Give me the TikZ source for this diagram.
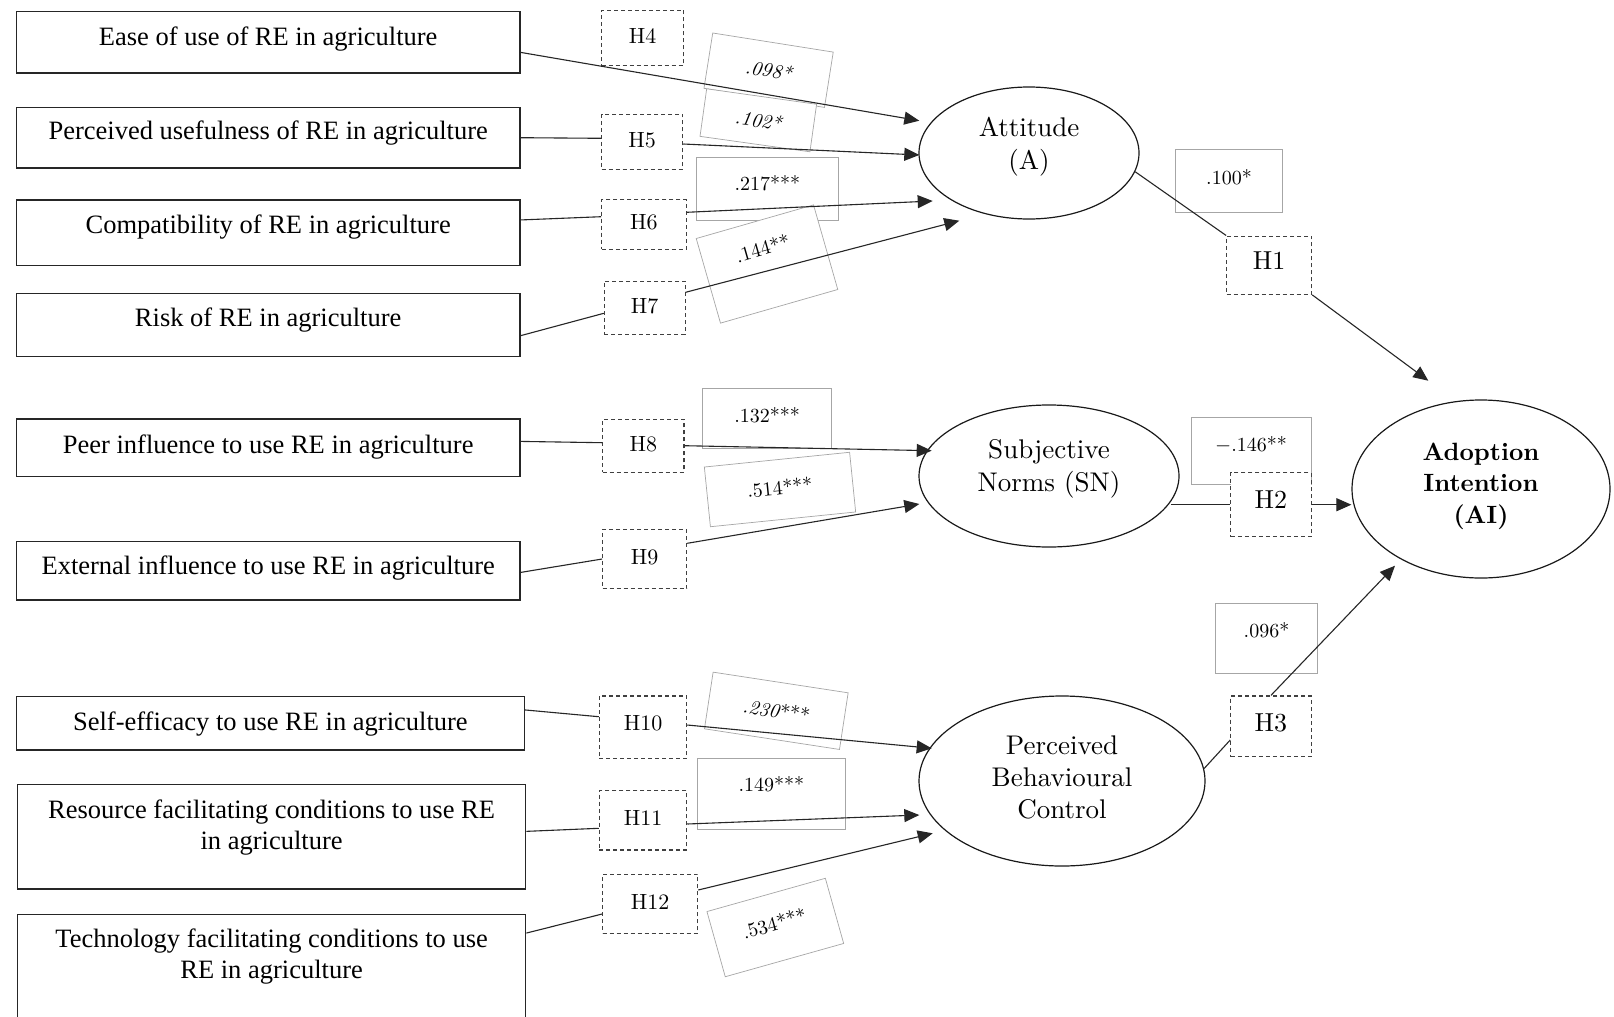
\documentclass[tikz,border=0pt]{standalone}
\usepackage{fontspec}
\setmainfont{lmroman10-regular}[Extension=.otf, BoldFont=lmroman10-bold, ItalicFont=lmroman10-italic]
\newfontfamily\tnr{Liberation Serif}
\usetikzlibrary{arrows.meta,shapes.geometric,calc}
\newcommand{\stk}[1]{\begin{tabular}[t]{@{}c@{}}#1\end{tabular}}
\begin{document}
\begin{tikzpicture}[x=1pt,y=-1pt,
  lbox/.style={draw=black!85, line width=1.4pt, rectangle, inner sep=0pt, fill=white,
    font=\tnr\fontsize{26.5}{31}\selectfont},
  hbox/.style={draw=black!75, dash pattern=on 4pt off 3pt, line width=1.1pt, fill=white,
    inner sep=0pt, font=\fontsize{22}{26}\selectfont, text height=15pt, text depth=4pt},
  hbig/.style={hbox, font=\fontsize{26}{30}\selectfont, text height=18pt, text depth=10pt},
  nbox/.style={draw=black!35, line width=0.7pt, fill=white, inner sep=0pt,
    font=\fontsize{20}{24}\selectfont, text height=14pt, text depth=0pt},
  ell/.style={ellipse, draw=black!90, line width=1.2pt, inner sep=0pt, fill=white,
    font=\fontsize{27}{33}\selectfont, text height=20pt},
  conn/.style={draw=black!85, line width=1.1pt},
  arr/.style={conn, -{Triangle[length=15pt,width=13pt]}},
]
\fill[white] (0,0) rectangle (1614,1017);
\useasboundingbox (0,0) rectangle (1614,1017);

% coefficient boxes
\node[nbox, rotate=-9, minimum width=122pt, minimum height=56pt] (n098) at (768.6,70.2) {\itshape .098*};
\node[nbox, rotate=-8, minimum width=111pt, minimum height=48pt] (n102) at (758.3,120.3) {\itshape .102*};
\node[nbox, minimum width=142.7pt, minimum height=62.7pt, text depth=11pt] (n217) at (767.3,188.7) {.217***};
\node[nbox, rotate=16, minimum width=122pt, minimum height=88pt, text depth=32pt] (n144) at (767,264) {.144**};
\node[nbox, minimum width=129pt, minimum height=60pt, text depth=6pt] (n132) at (767.2,418.3) {.132***};
\node[nbox, rotate=5.8, minimum width=146pt, minimum height=60pt, text depth=4pt] (n514) at (780,489.5) {.514***};
\node[nbox, rotate=-8.7, minimum width=136.6pt, minimum height=57.3pt] (n230) at (776.3,710.8) {\textit{.230}***};
\node[nbox, minimum width=147.3pt, minimum height=70.7pt, text depth=18pt] (n149) at (771.3,793.7) {.149***};
\node[nbox, rotate=15.7, minimum width=123pt, minimum height=67.7pt, text depth=8pt] (n534) at (775.3,927.5) {.534***};
\node[nbox, minimum width=106.6pt, minimum height=63.4pt, text depth=8pt] (n100) at (1229,181) {.100*};
\node[nbox, minimum width=120pt, minimum height=66.7pt, text depth=12pt] (n146) at (1251,450.7) {$-$.146**};
\node[nbox, minimum width=101.6pt, minimum height=70pt, text depth=16pt] (n096) at (1266.5,638.3) {.096*};

% hypothesis boxes
\node[hbox, minimum width=81.6pt, minimum height=55.7pt] (h4) at (642.5,37.9) {H4};
\node[hbox, minimum width=81pt, minimum height=55.3pt] (h5) at (642.2,141.7) {H5};
\node[hbox, minimum width=84.3pt, minimum height=50pt] (h6) at (643.9,224.3) {H6};
\node[hbox, minimum width=80.7pt, minimum height=53.3pt] (h7) at (644.7,307.7) {H7};
\node[hbox, minimum width=81.3pt, minimum height=52.7pt] (h8) at (643.3,445.7) {H8};
\node[hbox, minimum width=84pt, minimum height=59.4pt] (h9) at (644.7,559) {H9};
\node[hbox, minimum width=87.4pt, minimum height=62.7pt, text depth=9pt] (h10) at (643,727.3) {H10};
\node[hbox, minimum width=87.4pt, minimum height=59.3pt] (h11) at (643,820.3) {H11};
\node[hbox, minimum width=95pt, minimum height=59pt] (h12) at (650.2,903.8) {H12};
\node[hbig, minimum width=85pt, minimum height=58.3pt] (h1) at (1269.2,265.2) {H1};
\node[hbig, minimum width=80.3pt, minimum height=64pt] (h2) at (1270.9,504.7) {H2};
\node[hbig, minimum width=80.3pt, minimum height=60.7pt, text depth=8pt] (h3) at (1270.9,726.3) {H3};

% construct boxes
\node[lbox, anchor=north, minimum width=503.6pt, text height=33.6pt, text depth=28pt] (b1) at (268.2,10.7) {Ease of use of RE in agriculture};
\node[lbox, anchor=north, minimum width=503.6pt, text height=32pt, text depth=28.6pt] (b2) at (268.2,106.7) {Perceived usefulness of RE in agriculture};
\node[lbox, anchor=north, minimum width=503.6pt, text height=33pt, text depth=32.7pt] (b3) at (268.2,199.3) {Compatibility of RE in agriculture};
\node[lbox, anchor=north, minimum width=503.6pt, text height=33pt, text depth=30.3pt] (b4) at (268.2,292.7) {Risk of RE in agriculture};
\node[lbox, anchor=north, minimum width=503.6pt, text height=34pt, text depth=23.4pt] (b5) at (268.2,418.3) {Peer influence to use RE in agriculture};
\node[lbox, anchor=north, minimum width=503.6pt, text height=32.6pt, text depth=26pt] (b6) at (268.2,540.7) {External influence to use RE in agriculture};
\node[lbox, anchor=north, minimum width=508pt, text height=33.3pt, text depth=20pt] (b7) at (270.4,696) {Self-efficacy to use RE in agriculture};
\node[lbox, anchor=north, minimum width=508.2pt, text height=33.3pt, text depth=71pt] (b8) at (271.6,784) {\stk{Resource facilitating conditions to use RE\\in agriculture}};
\node[lbox, anchor=north, minimum width=508.2pt, text height=32.7pt, text depth=116pt] (b9) at (271.6,914) {\stk{Technology facilitating conditions to use\\RE in agriculture}};

% latent constructs
\node[ell, minimum width=220pt, minimum height=132pt, text depth=52.6pt] (att) at (1029,153) {\stk{Attitude\\(A)}};
\node[ell, minimum width=260pt, minimum height=142pt, text depth=55.4pt] (sn) at (1049,476) {\stk{Subjective\\Norms (SN)}};
\node[ell, minimum width=286pt, minimum height=170pt, text depth=73.4pt, font=\fontsize{27}{32}\selectfont] (pbc) at (1062,781) {\stk{Perceived\\Behavioural\\Control}};
\node[ell, minimum width=258pt, minimum height=178pt, text depth=78pt, font=\bfseries\fontsize{25}{31.7}\selectfont] (ai) at (1481,489) {\stk{Adoption\\Intention\\(AI)}};

% arrow tips
\coordinate (t4) at (919.3,120.7);
\coordinate (t5) at (919.3,155);
\coordinate (t6) at (932.7,201);
\coordinate (t7) at (959.3,220.7);
\coordinate (t8) at (931.7,450.7);
\coordinate (t9) at (919.3,504);
\coordinate (t10) at (931.7,748.3);
\coordinate (t11) at (919.3,815);
\coordinate (t12) at (932.7,833.3);
\coordinate (ta1) at (1428.3,380.7);
\coordinate (ta3) at (1395,565.7);

% connectors
\draw[arr] ($(b1.east)+(0,10.2)$) -- (t4);
\draw[conn] (b2.east) -- ($(h5.west)+(0,-3.4)$);
\draw[arr] ($(h5.east)+(0,2.3)$) -- (t5);
\draw[conn] ($(b3.east)+(0,-12.9)$) -- ($(h6.west)+(0,-7.6)$);
\draw[arr] ($(h6.east)+(0,-12)$) -- (t6);
\draw[conn] ($(b4.east)+(0,10.6)$) -- ($(h7.west)+(0,5.6)$);
\draw[arr] ($(h7.east)+(0,-15.4)$) -- (t7);
\draw[conn] ($(b5.east)+(0,-6.3)$) -- ($(h8.west)+(0,-3)$);
\draw[arr] (h8.east) -- (t8);
\draw[conn] ($(b6.east)+(0,1.7)$) -- (h9.west);
\draw[arr] ($(h9.east)+(0,-15.7)$) -- (t9);
\draw[conn] ($(b7.east)+(0,-13.4)$) -- ($(h10.west)+(0,-10.6)$);
\draw[arr] ($(h10.east)+(0,-2.3)$) -- (t10);
\draw[conn] ($(b8.east)+(0,-5.5)$) -- ($(h11.west)+(0,8)$);
\draw[arr] ($(h11.east)+(0,3.7)$) -- (t11);
\draw[conn] ($(b9.east)+(0,-56)$) -- ($(h12.west)+(0,10.2)$);
\draw[arr] ($(h12.east)+(0,-13.8)$) -- (t12);

\draw[conn] (att.-10) -- (h1.north west);
\draw[arr] (h1.south east) -- (ta1);
\draw[conn] (sn.-12 |- h2.west) -- (h2.west);
\draw[arr] (h2.east) -- (h2.east -| ai.west);
\draw[conn] (pbc.5) -- ($(h3.west)+(0,13.7)$);
\draw[arr] (h3.north) -- (ta3);
\end{tikzpicture}
\end{document}
